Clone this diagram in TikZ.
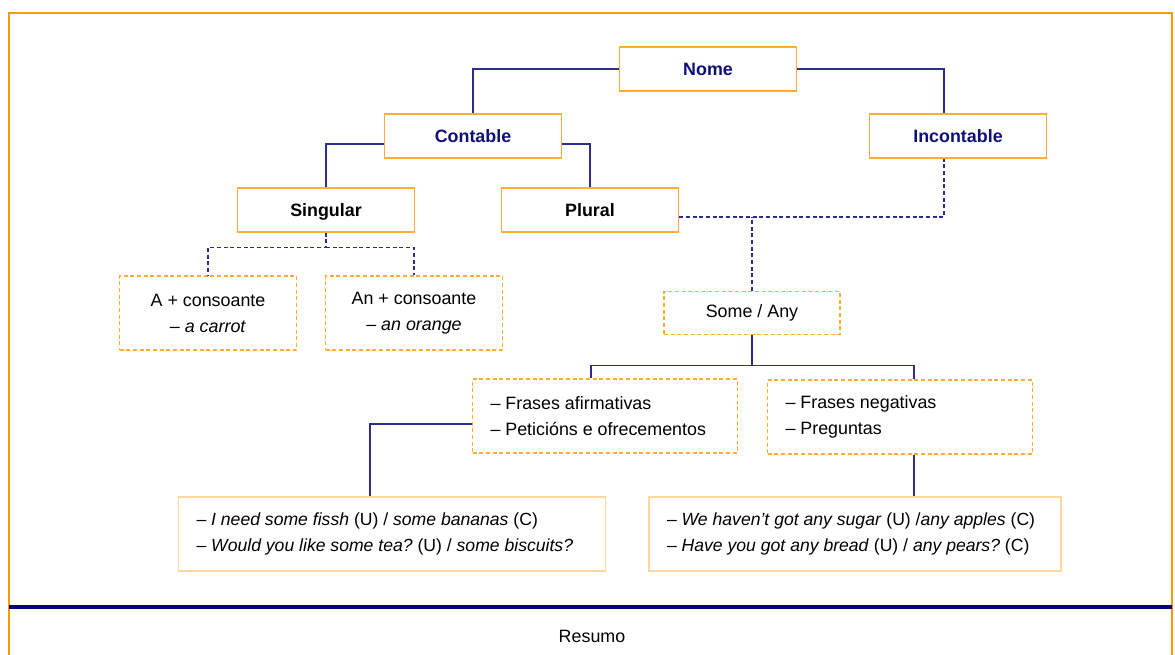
\documentclass[tikz,border=0pt]{standalone}
\usepackage{fontspec}
\setmainfont{Liberation Sans}
\definecolor{boxorange}{RGB}{255,172,55}
\definecolor{frameorange}{RGB}{255,153,0}
\definecolor{peach}{RGB}{255,215,160}
\definecolor{navyline}{RGB}{45,45,140}
\definecolor{navytext}{RGB}{15,15,120}
\definecolor{navybar}{RGB}{0,0,128}
\frenchspacing

\begin{document}
\begin{tikzpicture}[x=0.75pt,y=-0.75pt,line width=0.9pt,
		every node/.style={font=\fontsize{13.4}{19.5}\selectfont},
		main node/.style={rectangle,draw=boxorange,line width=1.1pt,minimum width=132.75pt,
			minimum height=33pt,text height=9.7pt,text depth=0pt,
			font=\fontsize{13.4}{16}\selectfont\bfseries},
		dash node/.style={rectangle,draw=boxorange,line width=1pt,dash pattern=on 3pt off 2pt,
			minimum height=55.5pt,align=center},
		list node/.style={dash node,inner xsep=13.5pt,align=flush left},
		example node/.style={rectangle,draw=peach,line width=1.1pt,minimum height=55.5pt,
			inner xsep=13.5pt,align=flush left,font=\fontsize{13.2}{19.5}\selectfont},
		link/.style={draw=navyline},
		dash link/.style={draw=navyline,dash pattern=on 3pt off 2pt}]

		\useasboundingbox (0,0) rectangle (1175,655);

		% frame and bottom bar
		\draw[frameorange,line width=1.6pt] (9,655) -- (9,13) -- (1172,13) -- (1172,655);
		\draw[navybar,line width=3pt] (9,607) -- (1172,607);

		\node[main node,text=navytext] (1) at (708,69) {Nome};
		\node[main node,text=navytext] (2) at (473,136) {Contable};
		\node[main node,text=navytext] (3) at (958,136) {Incontable};
		\node[main node] (4) at (326,210) {Singular};
		\node[main node] (5) at (590,210) {Plural};
		\node[dash node,minimum width=132.75pt] (6) at (208,313) {A + consoante\\ – \textit{a carrot}};
		\node[dash node,minimum width=132.75pt] (7) at (414,313) {An + consoante\\ – \textit{an orange}};
		\node[dash node,minimum width=132pt,minimum height=32.25pt] (8) at (752,313) {Some / Any};
		\node[list node,text width=171.75pt] (9) at (605,416) {– Frases afirmativas\\ – Peticións e ofrecementos};
		\node[list node,text width=171.75pt] (10) at (900,417) {– Frases negativas\\ – Preguntas};
		\node[example node,text width=293.25pt] (11) at (392,534)
			{– \textit{I need some fissh} (U) / \textit{some bananas} (C)\\
			 – \textit{Would you like some tea?} (U) / \textit{some biscuits?}};
		\node[example node,text width=282pt] (12) at (855,534)
			{– \textit{We haven't got any sugar} (U) /\textit{any apples} (C)\\
			 – \textit{Have you got any bread} (U) / \textit{any pears?} (C)};
		\node (13) at (592,636) {Resumo};

		% solid links
		\draw[link] (1.west) -| (2.north);
		\draw[link] (1.east) -| ([xshift=-10.5pt]3.north);
		\draw[link] ([yshift=-6pt]2.west) -| (4.north);
		\draw[link] ([yshift=-6pt]2.east) -| (5.north);
		\draw[link] (8.south) -- ++(0,30) coordinate (t) -| ([xshift=-10.5pt]9.north);
		\draw[link] (t) -| ([xshift=10.5pt]10.north);
		\draw[link] ([yshift=-6pt]9.west) -| ([xshift=-16.5pt]11.north);
		\coordinate (n) at ([xshift=10.5pt]10.south);
		\draw[link] (n) -- (n |- 12.north);

		% dashed links
		\draw[dash link] (4.south) -- ++(0,15) coordinate (s) -| (6.north);
		\draw[dash link] (s) -| (7.north);
		\coordinate (p) at ([yshift=-5.25pt]5.east);
		\draw[dash link] (p) -| ([xshift=-10.5pt]3.south);
		\draw[dash link] (8.north) -- (8.north |- p);
\end{tikzpicture}
\end{document}
